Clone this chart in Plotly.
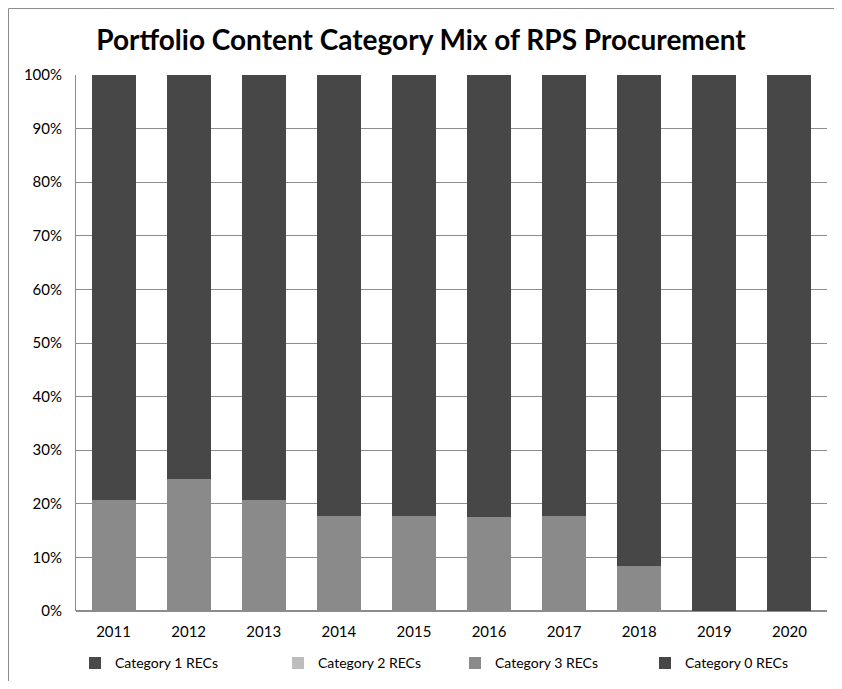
import plotly.graph_objects as go

years = ["2011", "2012", "2013", "2014", "2015", "2016", "2017", "2018", "2019", "2020"]
cat1 = [0, 0, 0, 0, 0, 0, 0, 0, 0, 0]
cat2 = [0, 0, 0, 0, 0, 0, 0, 0, 0, 0]
cat3 = [20.7, 24.6, 20.7, 17.7, 17.7, 17.6, 17.7, 8.4, 0, 0]
cat0 = [79.3, 75.4, 79.3, 82.3, 82.3, 82.4, 82.3, 91.6, 100, 100]

names = ["Category 1 RECs", "Category 2 RECs", "Category 3 RECs", "Category 0 RECs"]
colors = ["#4a4a4a", "#bdbdbd", "#8a8a8a", "#474747"]

W, H = 826, 673
L, R, T, B = 68, 7, 67, 70
legend_x_px = [67, 270, 447, 637]

fig = go.Figure()
legend_ids = ["legend", "legend2", "legend3", "legend4"]
for name, vals, col, lid in zip(names, [cat1, cat2, cat3, cat0], colors, legend_ids):
    fig.add_trace(go.Bar(x=years, y=vals, name=name, legend=lid,
                         marker=dict(color=col, line=dict(width=0))))

leg_common = dict(orientation="h", xref="container", yref="container",
                  y=0.05, xanchor="left", yanchor="top",
                  font=dict(size=14), itemwidth=30, bgcolor="rgba(0,0,0,0)")

layout_legends = {}
for lid, lx in zip(legend_ids, legend_x_px):
    layout_legends[lid] = dict(leg_common, x=lx / W)

fig.update_layout(
    barmode="stack",
    bargap=0.414,
    width=W, height=H,
    margin=dict(l=L, r=R, t=T, b=B, autoexpand=False),
    paper_bgcolor="white", plot_bgcolor="white",
    font=dict(family="Lato, Open Sans, sans-serif", color="#000000", size=14),
    title=dict(text="<b>Portfolio Content Category Mix of RPS Procurement</b>",
               x=0.5, xanchor="center", y=1 - 32 / H, yanchor="middle",
               font=dict(size=28, family="Lato, Open Sans, sans-serif", color="#000")),
    showlegend=True,
    xaxis=dict(showgrid=False, showline=False, ticks="", tickfont=dict(size=15),
               automargin=False, ticklabelstandoff=10),
    yaxis=dict(range=[0, 100], dtick=10, ticksuffix="%", showgrid=True,
               gridcolor="#8c8c8c", gridwidth=1, showline=True, linecolor="#8c8c8c",
               zeroline=True, zerolinecolor="#8c8c8c", tickfont=dict(size=15),
               ticklabelstandoff=10, automargin=False),
    **layout_legends,
)
pw, ph = W - L - R, H - T - B
fig.add_shape(type="rect", xref="paper", yref="paper",
              x0=-(L - 0.5) / pw, x1=1 + (R + 20) / pw,
              y0=-(B + 20) / ph, y1=1 + (T - 0.5) / ph,
              line=dict(color="#8c8c8c", width=1), layer="below")
fig.write_html("out.html")
